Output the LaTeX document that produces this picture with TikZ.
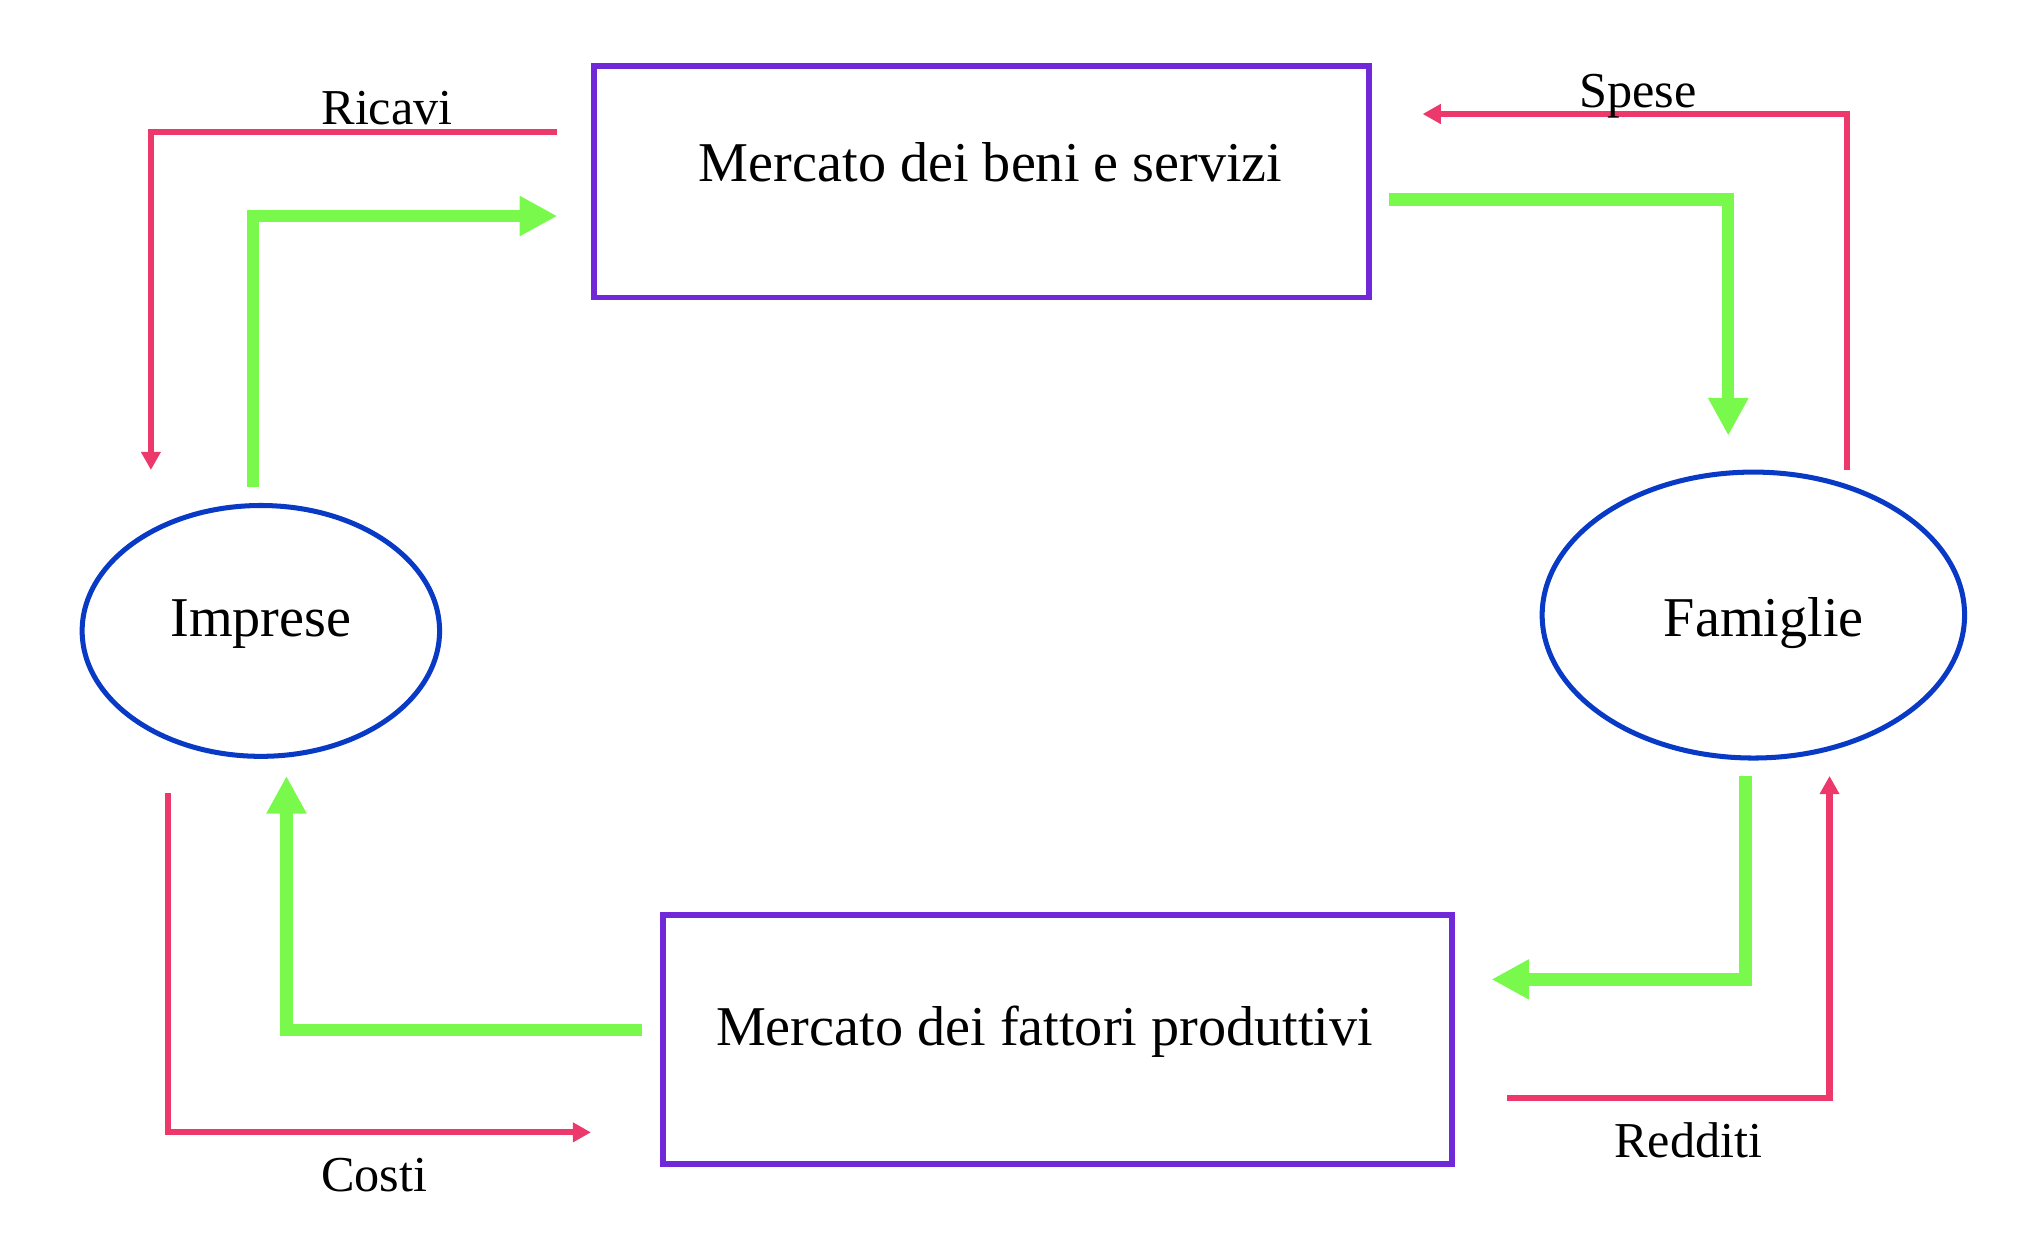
\documentclass[tikz,border=0pt]{standalone}
\usepackage{fontspec}
\setmainfont{Liberation Serif}
\usetikzlibrary{shapes.geometric}
\usetikzlibrary{arrows.meta}

\definecolor{rossoflusso}{RGB}{236,56,106}
\definecolor{verdeflusso}{RGB}{121,249,76}
\definecolor{violamercato}{RGB}{112,40,216}
\definecolor{bluoperatore}{RGB}{8,58,198}

\tikzset{
  mercato/.style={rectangle, draw=violamercato, line width=1.3pt,
    minimum width=5.96cm, minimum height=1.78cm,
    text height=7.4pt, text depth=4.9pt,
    font=\fontsize{12.3}{14}\selectfont},
  operatore/.style={ellipse, draw=bluoperatore, line width=1.1pt,
    font=\fontsize{12.3}{14}\selectfont},
  moneta/.style={draw=rossoflusso, line width=1.35pt,
    -{Triangle[length=0.14cm,width=0.145cm]}},
  reale/.style={draw=verdeflusso, line width=2.7pt,
    -{Triangle[length=0.29cm,width=0.29cm]}},
  voce/.style={anchor=base, inner sep=0pt, font=\fontsize{11}{13}\selectfont}
}

\begin{document}
\begin{tikzpicture}
\useasboundingbox (0,0) rectangle (15.68,-9.52);

\node[mercato, text depth=7.4pt] (beni) at (7.552,-1.399) {\hspace{0.14cm}Mercato dei beni e servizi};
\node[mercato, minimum width=6.077cm, minimum height=1.916cm] (fattori) at (8.136,-7.996) {Mercato dei fattori produttivi\kern0.2cm};
\node[operatore, minimum width=2.75cm, minimum height=1.93cm, text height=8.1pt, text depth=5.5pt] (imprese) at (2.007,-4.854) {Imprese};
\node[operatore, minimum width=3.25cm, minimum height=2.2cm, text height=10pt, text depth=0.4pt] (famiglie) at (13.49,-4.732) {\hspace{0.16cm}Famiglie};

\coordinate (ricavi-a) at (4.288,-1.013);
\coordinate (ricavi-b) at (1.161,-3.616);
\coordinate (spese-a) at (14.209,-3.616);
\coordinate (spese-b) at (10.945,-0.877);
\coordinate (redditi-a) at (11.596,-8.45);
\coordinate (redditi-b) at (14.076,-5.97);
\coordinate (costi-a) at (1.291,-6.099);
\coordinate (costi-b) at (4.547,-8.712);

\coordinate (offerta-a) at (1.944,-3.745);
\coordinate (offerta-b) at (4.288,-1.662);
\coordinate (consumo-a) at (10.684,-1.534);
\coordinate (consumo-b) at (13.297,-3.352);
\coordinate (lavoro-a) at (13.429,-5.97);
\coordinate (lavoro-b) at (11.475,-7.535);
\coordinate (fattori-a) at (4.942,-7.925);
\coordinate (fattori-b) at (2.204,-5.97);

\draw[moneta] (ricavi-a) -| (ricavi-b);
\draw[moneta] (spese-a) |- (spese-b);
\draw[moneta] (redditi-a) -| (redditi-b);
\draw[moneta] (costi-a) |- (costi-b);

\draw[reale] (offerta-a) |- (offerta-b);
\draw[reale] (consumo-a) -| (consumo-b);
\draw[reale] (lavoro-a) |- (lavoro-b);
\draw[reale] (fattori-a) -| (fattori-b);

\node[voce] (l-ricavi) at (2.978,-0.954) {Ricavi};
\node[voce] (l-spese) at (12.6,-0.826) {Spese};
\node[voce] (l-redditi) at (12.99,-8.905) {Redditi};
\node[voce] (l-costi) at (2.88,-9.169) {Costi};

\end{tikzpicture}
\end{document}
